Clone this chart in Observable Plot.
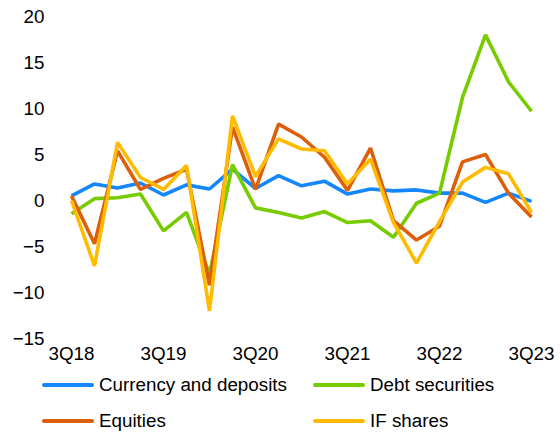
<!DOCTYPE html>
<html>
<head>
<meta charset="utf-8">
<script src="https://cdn.jsdelivr.net/npm/d3@7"></script>
<script src="https://cdn.jsdelivr.net/npm/@observablehq/plot@0.6"></script>
<style>
  body { margin: 0; background: #fff; font-family: Arial, "Liberation Sans", sans-serif; }
  #wrap { position: relative; width: 560px; height: 433px; overflow: hidden; }
  #legend { position: absolute; left: 0; top: 0; width: 560px; font-size: 18.8px; color: #000; }
  .item { position: absolute; display: flex; align-items: center; white-space: nowrap; }
  .sw { display: inline-block; width: 52px; height: 4px; border-radius: 2px; margin-right: 5px; }
</style>
</head>
<body>
<div id="wrap"><div id="chart"></div><div id="legend"></div></div>
<script>
const quarters = ["3Q18","4Q18","1Q19","2Q19","3Q19","4Q19","1Q20","2Q20","3Q20","4Q20","1Q21","2Q21","3Q21","4Q21","1Q22","2Q22","3Q22","4Q22","1Q23","2Q23","3Q23"];
const tickQuarters = ["3Q18","3Q19","3Q20","3Q21","3Q22","3Q23"];
const yTicks = [-15, -10, -5, 0, 5, 10, 15, 20];
const seriesNames = ["Currency and deposits", "Debt securities", "Equities", "IF shares"];
const seriesColors = ["#1487ff", "#77cc00", "#dc5f0a", "#ffbb00"];
const currency = [0.5,1.8,1.35,1.9,0.6,1.7,1.25,3.4,1.3,2.7,1.6,2.1,0.7,1.25,1.05,1.15,0.8,0.8,-0.2,0.8,-0.1];
const debt = [-1.45,0.2,0.3,0.7,-3.3,-1.3,-8.0,3.9,-0.8,-1.3,-1.9,-1.2,-2.4,-2.2,-4.0,-0.3,0.8,11.2,18.0,12.9,9.7];
const equities = [0.5,-4.7,5.4,1.2,2.4,3.4,-9.2,8.0,1.2,8.3,6.9,4.7,1.1,5.7,-2.2,-4.3,-2.8,4.2,5.0,0.8,-1.8];
const ifShares = [0.0,-7.1,6.3,2.5,1.2,3.8,-12.0,9.2,2.6,6.7,5.6,5.4,1.8,4.5,-2.4,-6.8,-2.3,2.0,3.6,2.9,-1.3];

const allSeries = [currency, debt, equities, ifShares];
const data = [];
allSeries.forEach((vals, s) => vals.forEach((v, i) => data.push({q: quarters[i], v, s: seriesNames[s]})));

const chart = Plot.plot({
  width: 560,
  height: 368,
  marginTop: 16,
  marginBottom: 30,
  marginLeft: 71,
  marginRight: 29,
  style: { fontFamily: 'Arial, "Liberation Sans", sans-serif', fontSize: "18.8px", color: "#000", background: "transparent" },
  x: { type: "point", domain: quarters, padding: 0 },
  y: { domain: [-15, 20] },
  color: { domain: seriesNames, range: seriesColors },
  marks: [
    Plot.axisY({ ticks: yTicks, tickSize: 0, tickPadding: 27, label: null, fontSize: 18.8 }),
    Plot.axisX({ ticks: tickQuarters, tickSize: 0, tickPadding: 8, label: null, fontSize: 18.8 }),
    Plot.line(data, { x: "q", y: "v", z: "s", stroke: "s", strokeWidth: 3.6, strokeLinejoin: "miter", strokeLinecap: "butt" })
  ]
});
document.getElementById("chart").appendChild(chart);

const legend = document.getElementById("legend");
const pos = [[42, 385], [313, 385], [42, 421], [313, 421]];
seriesNames.forEach((name, i) => {
  const it = document.createElement("div");
  it.className = "item";
  it.style.left = pos[i][0] + "px";
  it.style.top = (pos[i][1] - 11) + "px";
  it.style.height = "22px";
  const sw = document.createElement("span");
  sw.className = "sw";
  sw.style.background = seriesColors[i];
  const tx = document.createElement("span");
  tx.textContent = name;
  it.appendChild(sw); it.appendChild(tx);
  legend.appendChild(it);
});
</script>
</body>
</html>
